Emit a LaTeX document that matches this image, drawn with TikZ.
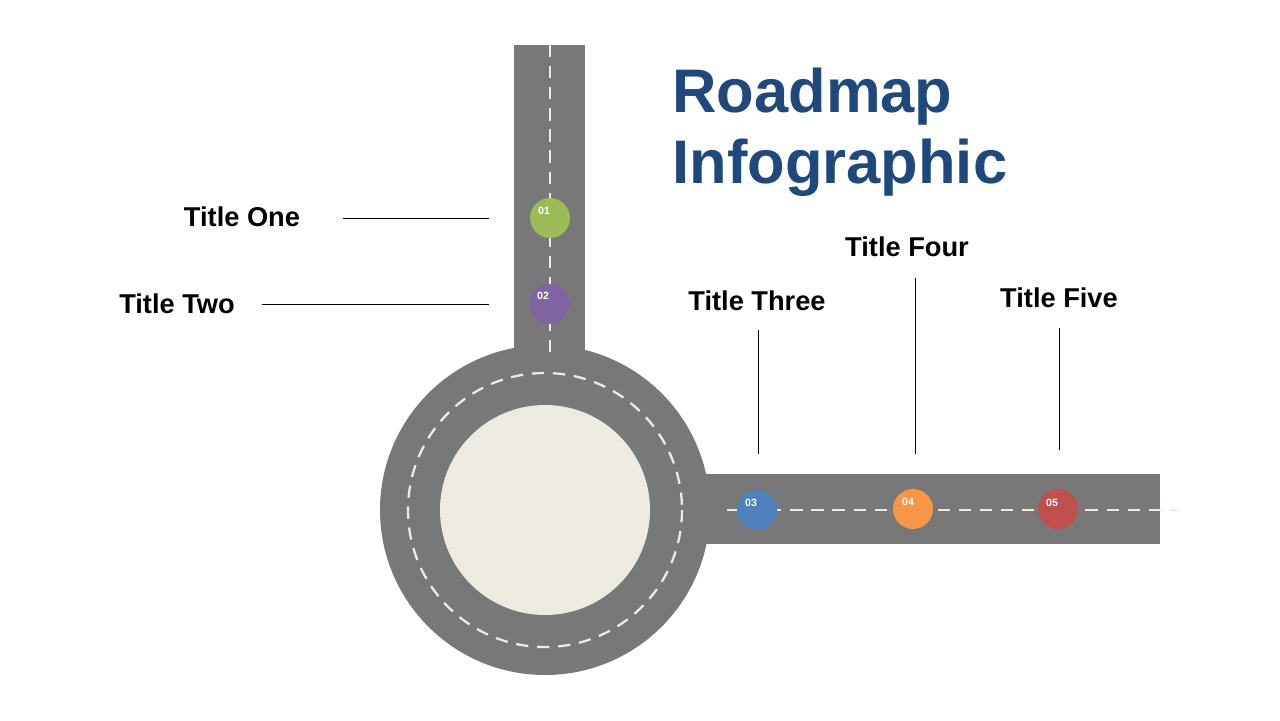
\documentclass[tikz,border=0pt]{standalone}
\usepackage{fontspec}
\setmainfont{Liberation Sans}
\begin{document}
\begin{tikzpicture}[x=0.02cm,y=-0.02cm,
  road/.style={fill=roadgray,draw=none},
  laneline/.style={draw=cream,line width=1.3pt,dash pattern=on 7pt off 5pt},
  dot/.style={circle,minimum size=0.8cm,inner sep=0pt,draw=none},
  num/.style={font=\bfseries\fontsize{6}{7}\selectfont,text=white},
  lbl/.style={font=\bfseries\fontsize{15.5}{18}\selectfont},
  lead/.style={draw=black,line width=0.5pt}]
\definecolor{roadgray}{HTML}{787878}
\definecolor{cream}{HTML}{EDEBE0}
\definecolor{titleblue}{HTML}{1F497D}
\useasboundingbox (0,0) rectangle (1280,720);
\fill[road] (514,45) rectangle (585,380);
\fill[road] (680,474) rectangle (1160,544);
\fill[road] (545,510) circle[radius=165];
\fill[cream] (545,510) circle[radius=105];
\draw[laneline] (545,510) circle[radius=137];
\draw[laneline] (550,45) -- (550,360);
\draw[laneline] (727,510) -- (1177,510);
\node[dot,fill={rgb,255:red,155;green,187;blue,89}] (d1) at (550,218) {};
\node[dot,fill={rgb,255:red,128;green,100;blue,162}] (d2) at (549,304) {};
\node[dot,fill={rgb,255:red,79;green,129;blue,189}] (d3) at (757,510) {};
\node[dot,fill={rgb,255:red,247;green,150;blue,70}] (d4) at (913,509) {};
\node[dot,fill={rgb,255:red,192;green,80;blue,77}] (d5) at (1058,509) {};
\node[num] at (544,211) {01};
\node[num] at (543,296) {02};
\node[num] at (751,503) {03};
\node[num] at (908,502) {04};
\node[num] at (1052,503) {05};
\node[lbl] (t1) at (242,217) {Title One};
\node[lbl] (t2) at (177,304) {Title Two};
\node[lbl] (t3) at (757,301) {Title Three};
\node[lbl] (t4) at (907,247) {Title Four};
\node[lbl] (t5) at (1059,298) {Title Five};
\coordinate (e1) at (489,218);
\coordinate (e2) at (489,304);
\coordinate (e3) at (758,454);
\coordinate (e4) at (915,454);
\coordinate (e5) at (1059,450);
\draw[lead] (343,218) -- (e1);
\draw[lead] (262,304) -- (e2);
\draw[lead] (758,330) -- (e3);
\draw[lead] (915,278) -- (e4);
\draw[lead] (1059,328) -- (e5);
\node[anchor=north west,text=titleblue,font=\bfseries\fontsize{35}{40}\selectfont,align=left,inner sep=0pt] (title) at (672,68) {Roadmap\\Infographic};
\end{tikzpicture}
\end{document}
